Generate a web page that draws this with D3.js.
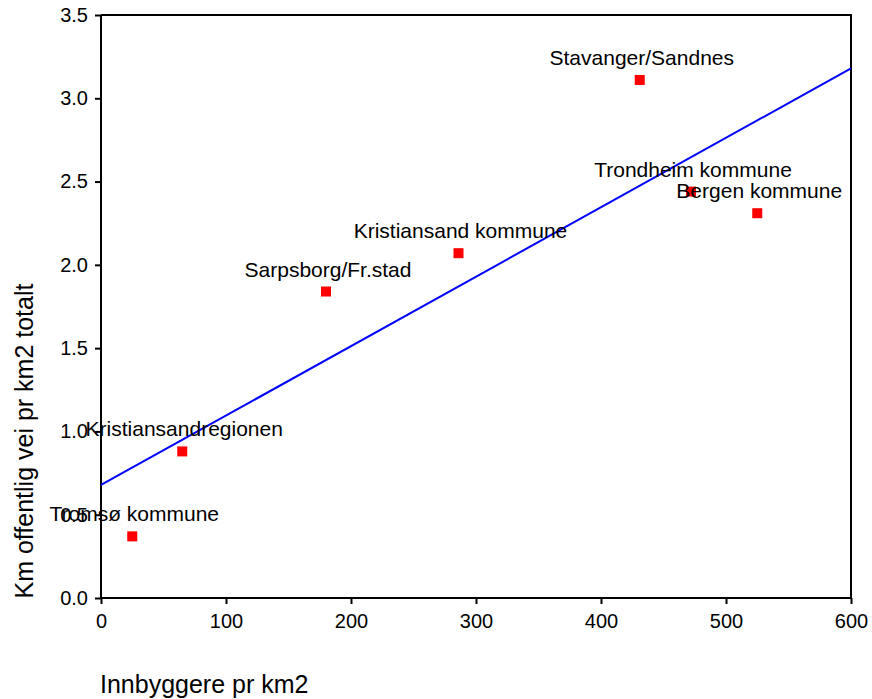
<!DOCTYPE html>
<html>
<head>
<meta charset="utf-8">
<script src="https://cdn.jsdelivr.net/npm/d3@7"></script>
<style>
  html, body { margin: 0; padding: 0; background: #fff; }
  svg { display: block; font-family: "Liberation Sans", Arial, sans-serif; }
</style>
</head>
<body>
<svg id="chart" width="872" height="699"></svg>
<script>
// Population density vs. public road density per region
const regions = ["Tromsø kommune", "Kristiansandregionen", "Sarpsborg/Fr.stad",
                 "Kristiansand kommune", "Stavanger/Sandnes", "Trondheim kommune", "Bergen kommune"];
const density = [25, 65, 180, 286, 431, 472, 525];          // Innbyggere pr km2
const roadDensity = [0.37, 0.88, 1.84, 2.07, 3.11, 2.44, 2.31]; // Km offentlig vei pr km2
const xTicks = [0, 100, 200, 300, 400, 500, 600];
const yTicks = [0.0, 0.5, 1.0, 1.5, 2.0, 2.5, 3.0, 3.5];

const svg = d3.select("#chart");
const m = { left: 101, right: 851, top: 15, bottom: 598 };

const x = d3.scaleLinear().domain([0, 600]).range([m.left, m.right]);
const y = d3.scaleLinear().domain([0, 3.5]).range([m.bottom, m.top]);

// frame (top and right edges)
svg.append("path")
  .attr("d", `M${m.left},${m.top}H${m.right}V${m.bottom}`)
  .attr("fill", "none").attr("stroke", "#000").attr("stroke-width", 2);

const xAxis = svg.append("g")
  .attr("transform", `translate(0,${m.bottom})`)
  .call(d3.axisBottom(x).tickValues(xTicks).tickSize(6).tickPadding(10).tickFormat(d3.format("d")));
const yAxis = svg.append("g")
  .attr("transform", `translate(${m.left},0)`)
  .call(d3.axisLeft(y).tickValues(yTicks).tickSize(6).tickPadding(7).tickFormat(d3.format(".1f")));

[xAxis, yAxis].forEach(g => {
  g.select(".domain").attr("stroke-width", 2).attr("d",
    g === xAxis ? `M${m.left},0H${m.right}` : `M0,${m.bottom}V${m.top}`);
  g.selectAll(".tick line").attr("stroke-width", 2);
  g.selectAll("text").attr("font-size", 20).attr("fill", "#000")
    .attr("font-family", "Liberation Sans, Arial, sans-serif");
});

// least-squares trend line
const mx = d3.mean(density), my = d3.mean(roadDensity);
const slope = d3.sum(density, (d, i) => (d - mx) * (roadDensity[i] - my)) /
              d3.sum(density, d => (d - mx) ** 2);
const intercept = my - slope * mx;
svg.append("line")
  .attr("x1", x(0)).attr("y1", y(intercept))
  .attr("x2", x(600)).attr("y2", y(intercept + slope * 600))
  .attr("stroke", "#0000ff").attr("stroke-width", 2);

// points
const pts = density.map((d, i) => ({ name: regions[i], x: d, y: roadDensity[i] }));
svg.selectAll("rect.pt").data(pts).join("rect")
  .attr("class", "pt")
  .attr("x", d => x(d.x) - 5).attr("y", d => y(d.y) - 5)
  .attr("width", 10).attr("height", 10)
  .attr("fill", "#ff0000");

// labels
svg.selectAll("text.lbl").data(pts).join("text")
  .attr("class", "lbl")
  .attr("x", d => x(d.x) + 2).attr("y", d => y(d.y) - 15)
  .attr("text-anchor", "middle")
  .attr("font-size", 21)
  .attr("fill", "#000")
  .text(d => d.name);

// axis titles
svg.append("text")
  .attr("x", 100).attr("y", 693)
  .attr("font-size", 25).attr("fill", "#000")
  .text("Innbyggere pr km2");
svg.append("text")
  .attr("transform", `translate(33,441) rotate(-90)`)
  .attr("text-anchor", "middle")
  .attr("font-size", 25).attr("fill", "#000")
  .text("Km offentlig vei pr km2 totalt");
</script>
</body>
</html>
